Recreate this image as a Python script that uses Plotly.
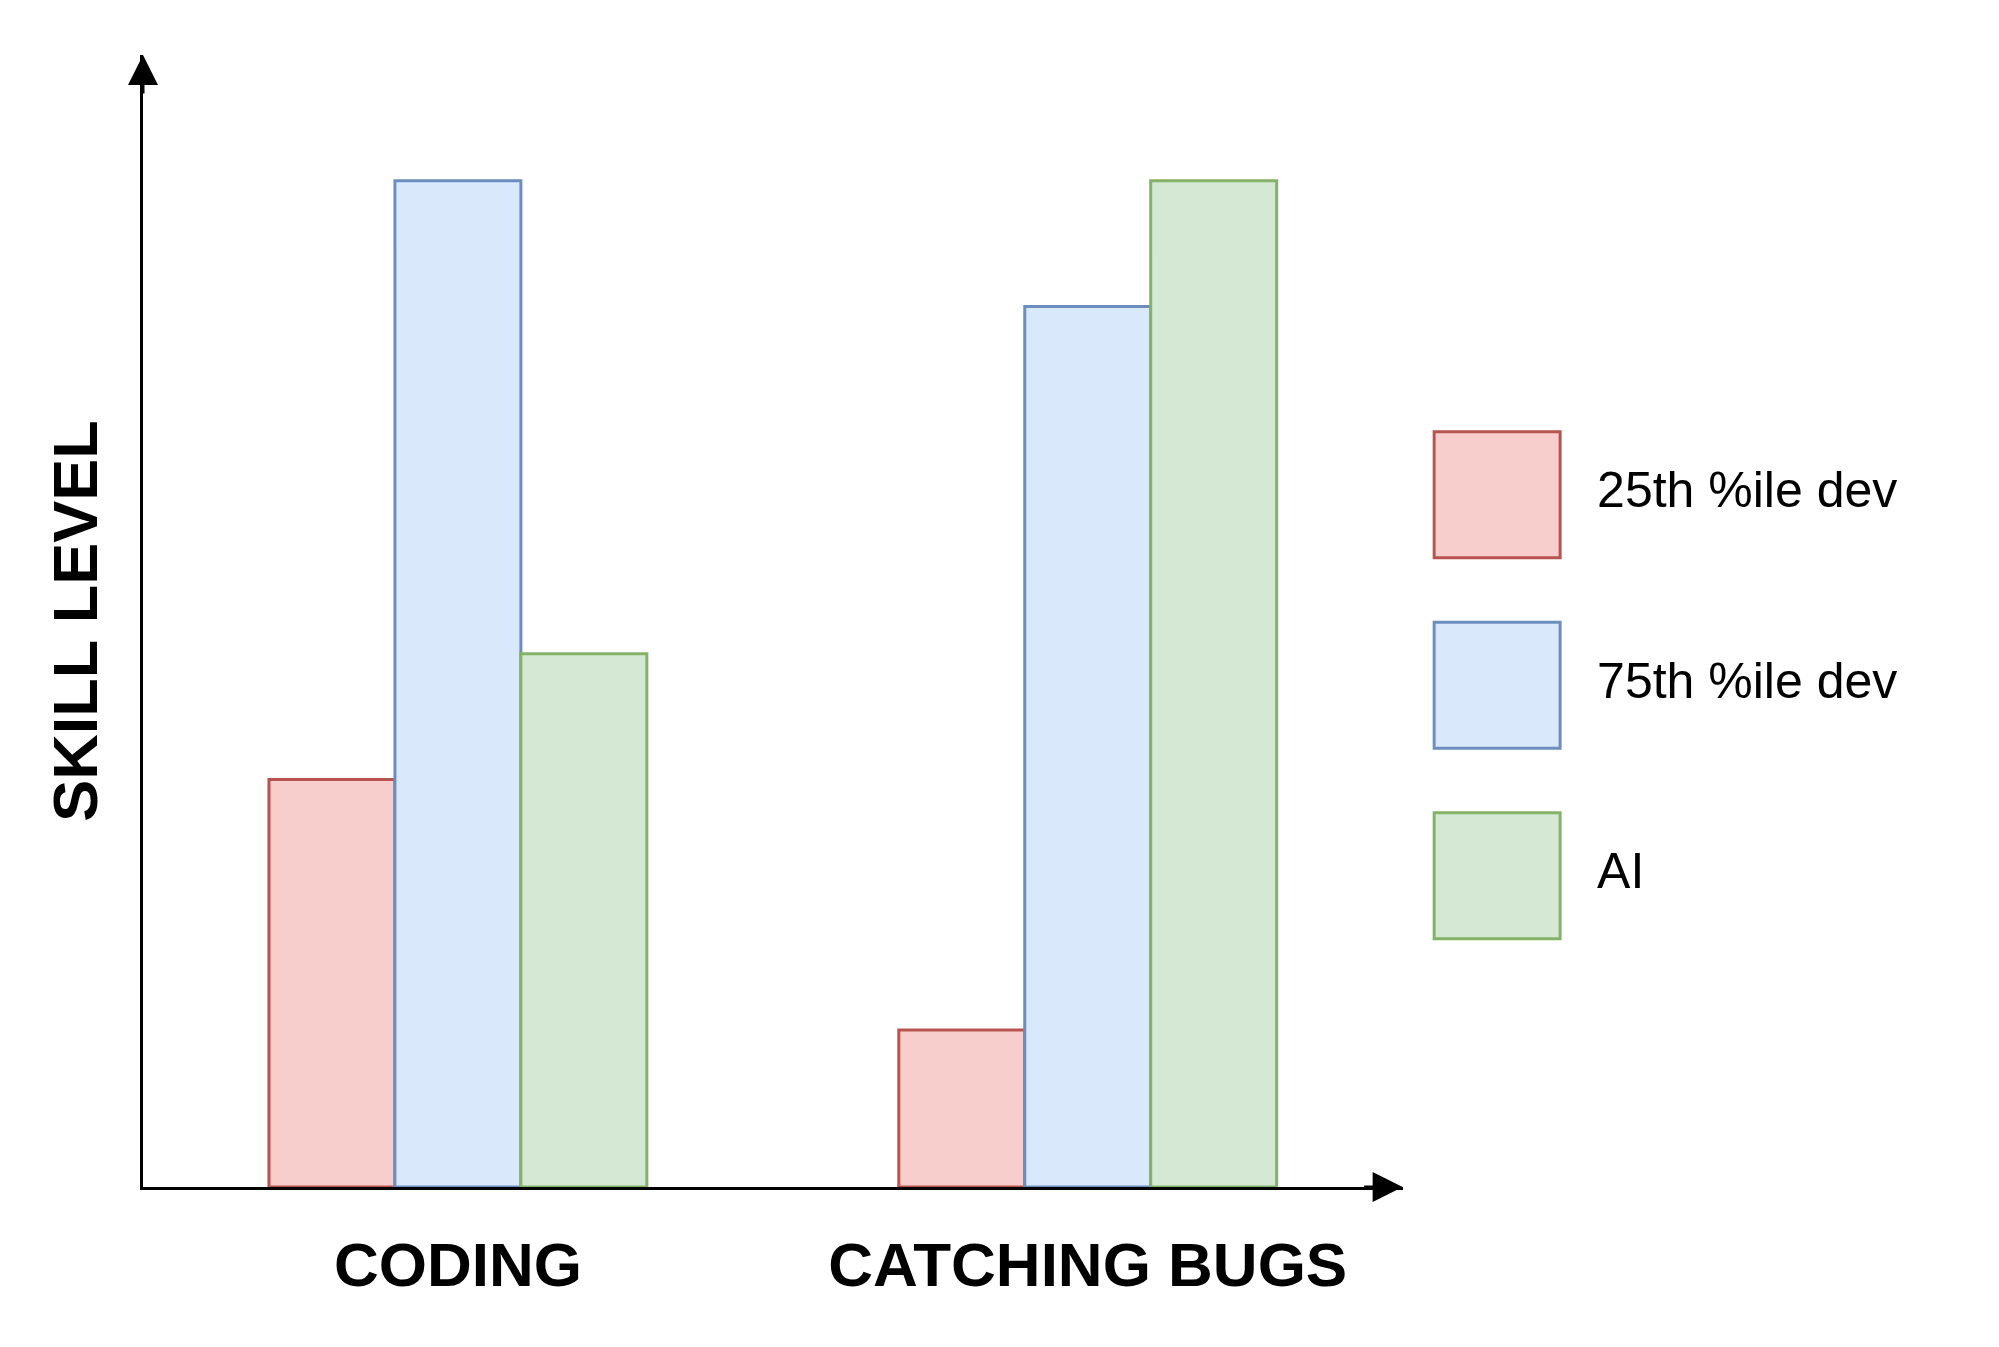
import plotly.graph_objects as go

# -----------------------------
# Datos
# -----------------------------
categorias = ["CODING", "CATCHING BUGS"]
series = ["25th %ile dev", "75th %ile dev", "AI"]
dev_25 = [40.5, 15.6]
dev_75 = [100, 87.5]
ia = [53, 100]
valores = [dev_25, dev_75, ia]

relleno = ["#f8cecc", "#dae8fc", "#d5e8d4"]
borde = ["#b85450", "#6c8ebf", "#82b366"]

FUENTE = "Liberation Sans, Arial, Helvetica, sans-serif"

# -----------------------------
# Figura
# -----------------------------
fig = go.Figure()

for nombre, vals, c_rel, c_bor in zip(series, valores, relleno, borde):
    fig.add_trace(go.Bar(
        x=categorias, y=vals, name=nombre,
        marker=dict(color=c_rel, line=dict(color=c_bor, width=3)),
        showlegend=False, xaxis="x", yaxis="y",
    ))

# leyenda dibujada a mano (cuadros grandes)
fig.add_trace(go.Scatter(
    x=[0] * len(series), y=series,
    mode="markers",
    marker=dict(symbol="square", size=126, color=relleno,
                line=dict(color=borde, width=3)),
    showlegend=False, hoverinfo="skip",
    xaxis="x2", yaxis="y2",
))
fig.add_trace(go.Scatter(
    x=[100] * len(series), y=series,
    mode="text", text=series, textposition="middle right",
    textfont=dict(family=FUENTE, size=50, color="black"),
    showlegend=False, hoverinfo="skip",
    xaxis="x2", yaxis="y2",
))

# flechas de los ejes
flecha = dict(text="", showarrow=True, arrowhead=2, arrowsize=2,
              arrowwidth=3, arrowcolor="black", standoff=0)
fig.add_annotation(xref="x domain", yref="y domain", x=1, y=0,
                   axref="pixel", ayref="pixel", ax=-40, ay=0, **flecha)
fig.add_annotation(xref="x domain", yref="y domain", x=0, y=1,
                   axref="pixel", ayref="pixel", ax=0, ay=40, **flecha)

fig.update_layout(
    template="none",
    width=1991, height=1339,
    margin=dict(l=134.5, r=12, t=47, b=160),
    paper_bgcolor="white", plot_bgcolor="white",
    barmode="group", bargap=0.4, bargroupgap=0,
    xaxis=dict(
        domain=[0, 0.6831], type="category",
        showline=True, linecolor="black", linewidth=3,
        showgrid=False, zeroline=False,
        ticks="outside", ticklen=22, tickcolor="rgba(0,0,0,0)",
        tickfont=dict(family=FUENTE, size=62, color="black", weight="bold"),
    ),
    yaxis=dict(
        range=[0, 112.5],
        showline=True, linecolor="black", linewidth=3,
        showgrid=False, zeroline=False, showticklabels=False, ticks="",
        title=dict(text="SKILL LEVEL", standoff=22,
                   font=dict(family=FUENTE, size=63, color="black", weight="bold")),
    ),
    xaxis2=dict(domain=[0.6991, 1], range=[-65, 490], visible=False),
    yaxis2=dict(domain=[0.1907, 0.6956], type="category",
                range=[2.5, -0.5], visible=False),
)

fig.write_html("out.html")
